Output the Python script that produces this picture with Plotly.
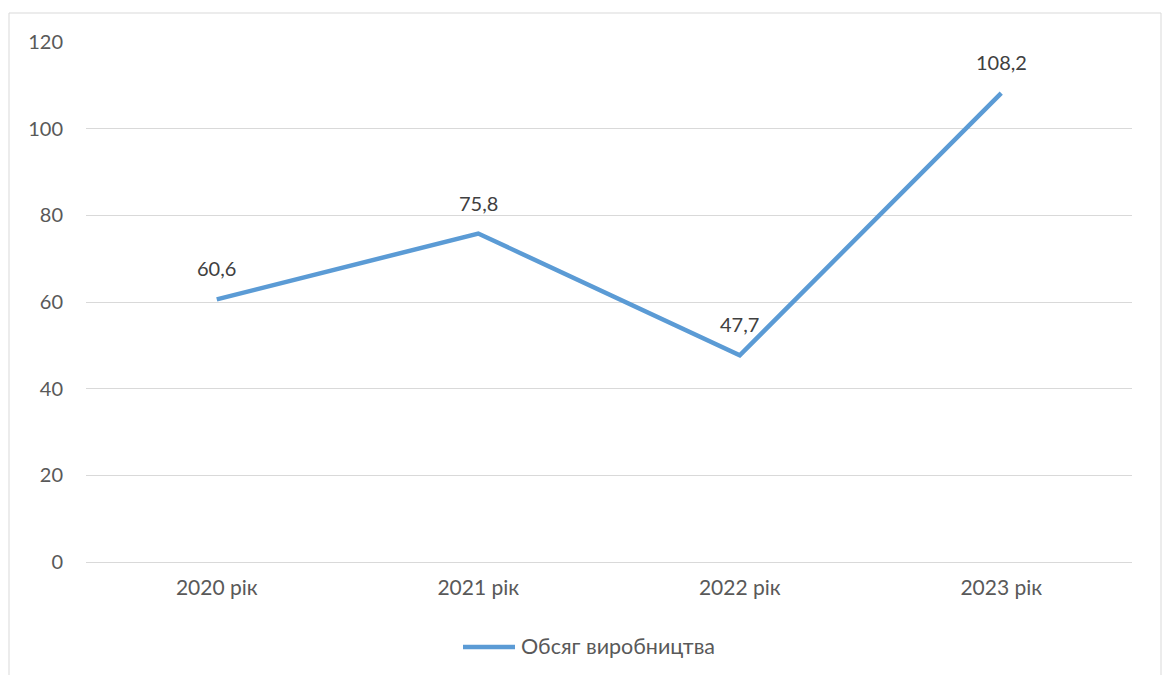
import plotly.graph_objects as go

categories = ["2020 рік", "2021 рік", "2022 рік", "2023 рік"]
values = [60.6, 75.8, 47.7, 108.2]
series_name = "Обсяг виробництва"
y_ticks = [0, 20, 40, 60, 80, 100, 120]

W, H = 1165, 675
ml, mr, mt, mb = 86, 33, 42, 113
pw, ph = W - ml - mr, H - mt - mb
LINE_COLOR = "#5B9BD5"

def px_x(p):
    return (p - ml) / pw

def px_y(p):
    return (H - mb - p) / ph

fig = go.Figure()
fig.add_trace(go.Scatter(
    x=categories, y=values, mode="lines", name=series_name,
    line=dict(color=LINE_COLOR, width=4.5), showlegend=False,
))
for c, v in zip(categories, values):
    fig.add_annotation(x=c, y=v, text=f"{v:.1f}".replace(".", ","),
                       showarrow=False, yshift=31,
                       font=dict(family="Lato", size=20, color="#404040"))

# legend (drawn manually so it doesn't shrink the plot area)
fig.add_annotation(xref="paper", yref="paper", x=px_x(519), y=px_y(646),
                   xanchor="left", yanchor="middle", showarrow=False,
                   text=series_name, font=dict(family="Lato", size=21.5, color="#595959"))

fig.update_layout(
    width=W, height=H,
    margin=dict(l=ml, r=mr, t=mt, b=mb, autoexpand=False),
    paper_bgcolor="white", plot_bgcolor="white",
    font=dict(family="Lato", size=20, color="#595959"),
    showlegend=False,
    xaxis=dict(range=[-0.5, 3.5], showgrid=False, showline=True, linecolor="#D9D9D9",
               linewidth=1, ticks="", tickfont=dict(size=21, color="#595959"),
               ticklabelstandoff=7, automargin=False),
    yaxis=dict(range=[0, 120], tickvals=y_ticks, showgrid=True, gridcolor="#D9D9D9",
               gridwidth=1, zeroline=False, ticks="", ticklabelstandoff=22,
               tickfont=dict(size=20, color="#595959"), automargin=False),
    shapes=[
        dict(type="rect", xref="paper", yref="paper",
             x0=px_x(9), x1=px_x(1161), y0=px_y(690), y1=px_y(13),
             line=dict(color="#D9D9D9", width=1), layer="below"),
        dict(type="line", xref="paper", yref="paper",
             x0=px_x(463), x1=px_x(515), y0=px_y(647), y1=px_y(647),
             line=dict(color=LINE_COLOR, width=4.5)),
    ],
)
fig.write_html("out.html")
